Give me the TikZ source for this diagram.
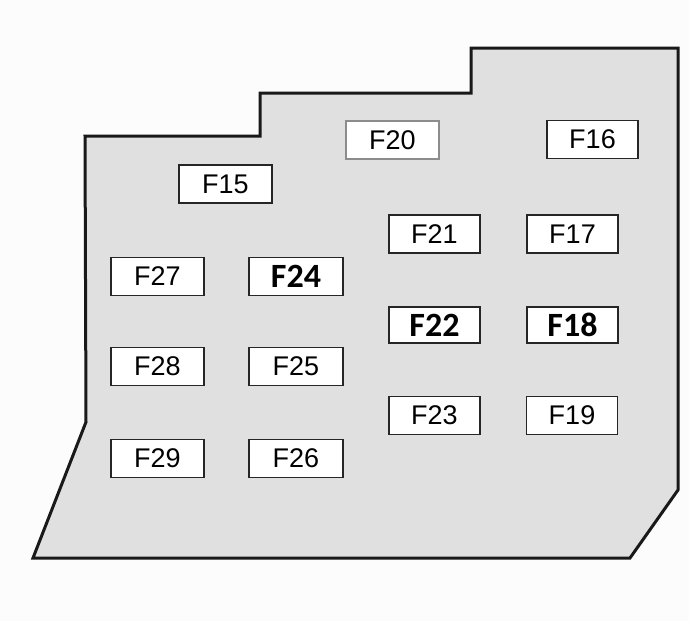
\documentclass[tikz,border=0pt]{standalone}
\usepackage{fontspec}
\setmainfont{Liberation Sans}
\newfontfamily\carl{Carlito}
\begin{document}
\begin{tikzpicture}[x=1pt,y=-1pt,
  fuse/.style={draw=black!85,line width=1.6pt,fill=white,minimum width=93pt,minimum height=38pt,inner sep=0pt,font=\fontsize{27}{27}\selectfont},
  fusebold/.style={fuse,font=\carl\bfseries\fontsize{34}{34}\selectfont},
  panel/.style={draw=black!90,line width=3pt,fill=black!12,line join=miter}]
\useasboundingbox[fill=white!99!black] (0,0) rectangle (689,621);
\draw[panel] (85,136) -- (260,136) -- (260,93) -- (471,93) -- (471,48) -- (678,48)
  -- (678,490) -- (630,558) -- (33,558) -- (86,422) -- cycle;
\node[fuse,draw=black!45,line width=1.2pt] (f20) at (392.5,140) {F20};
\node[fuse,minimum width=91pt] (f16) at (592.5,139.5) {F16};
\node[fuse] (f15) at (225.5,184) {F15};
\node[fuse,minimum width=91pt] (f21) at (434.5,234) {F21};
\node[fuse,minimum width=91pt] (f17) at (572.5,234) {F17};
\node[fuse] (f27) at (157.5,276.5) {F27};
\node[fusebold,minimum width=94pt] (f24) at (296,276.5) {F24};
\node[fusebold,minimum width=91pt,minimum height=36pt] (f22) at (434.5,325) {F22};
\node[fusebold,minimum width=91pt,minimum height=36pt] (f18) at (572.5,325) {F18};
\node[fuse] (f28) at (157.5,366.5) {F28};
\node[fuse,minimum width=94pt] (f25) at (296,366.5) {F25};
\node[fuse,minimum width=91pt] (f23) at (434.5,415.5) {F23};
\node[fuse,minimum width=91pt] (f19) at (572,415.5) {F19};
\node[fuse] (f29) at (157.5,458.5) {F29};
\node[fuse,minimum width=94pt] (f26) at (296,458.5) {F26};
\end{tikzpicture}
\end{document}
